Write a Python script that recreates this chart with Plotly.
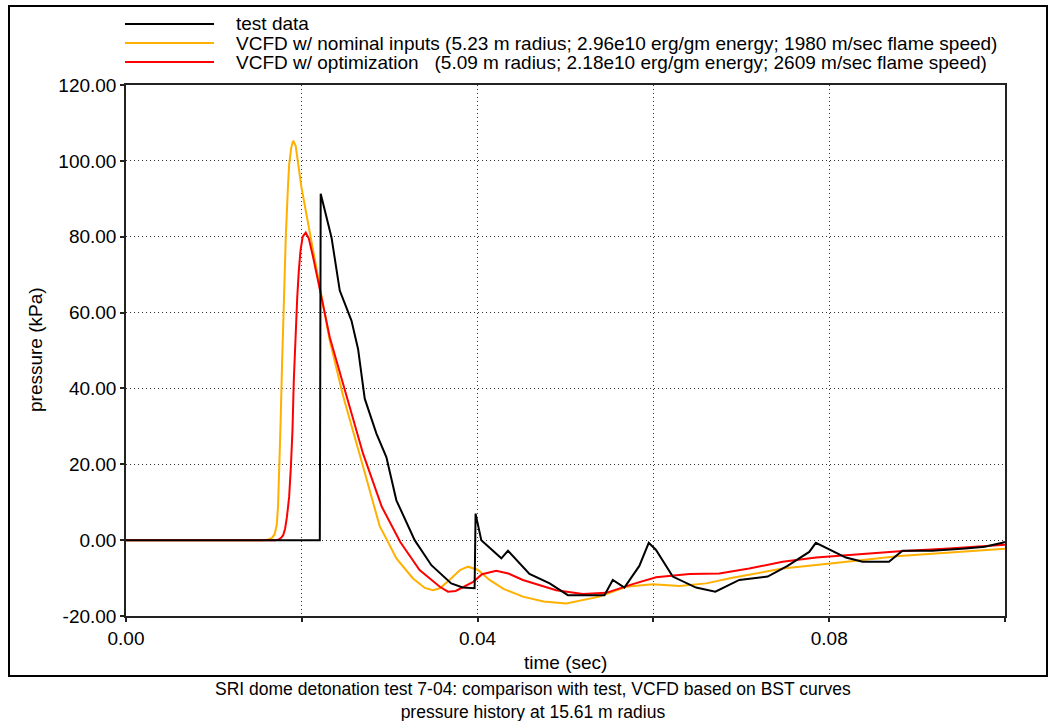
import plotly.graph_objects as go

# ---------------- data ----------------
test_t = [0.0, 0.02205, 0.02215, 0.02338, 0.02432, 0.02565, 0.0264, 0.02716, 0.02849, 0.02962,
          0.03076, 0.03284, 0.03474, 0.037, 0.0383, 0.03966, 0.03977, 0.04042, 0.0427, 0.04345,
          0.0459, 0.0482, 0.05027, 0.05443, 0.05538, 0.0567, 0.0584, 0.05947, 0.0603, 0.0622,
          0.06485, 0.06705, 0.06977, 0.073, 0.07526, 0.07773, 0.07848, 0.0798, 0.0819, 0.0838,
          0.0868, 0.08833, 0.0917, 0.0955, 0.0977, 0.0997, 0.1]
test_p = [0.0, 0.0, 91.3, 79.8, 65.8, 57.9, 50.4, 37.3, 28.1, 21.9,
          10.5, 0.0, -6.6, -11.4, -12.5, -12.7, 7.0, 0.0, -4.8, -2.8,
          -8.9, -11.4, -14.5, -14.5, -10.5, -12.5, -6.8, -0.7, -2.6, -9.6,
          -12.5, -13.6, -10.5, -9.6, -6.8, -3.1, -0.7, -2.2, -4.6, -5.7,
          -5.7, -2.8, -2.8, -2.2, -1.75, -0.7, -0.5]

nom_t = [0.0, 0.0157, 0.0162, 0.0166, 0.0169, 0.01715, 0.0173, 0.01745, 0.0176, 0.01775,
         0.0179, 0.01818, 0.0184, 0.01856, 0.0188, 0.01902, 0.0193, 0.0196, 0.01996, 0.0210,
         0.02205, 0.02318, 0.0247, 0.0260, 0.0272, 0.0281, 0.02886, 0.0297, 0.03076, 0.03265,
         0.0340, 0.03492, 0.0357, 0.0368, 0.0380, 0.0389, 0.0400, 0.04136, 0.0430, 0.04515,
         0.0475, 0.05008, 0.05386, 0.0569, 0.05992, 0.06295, 0.066, 0.069, 0.0747, 0.0804,
         0.088, 0.1]
nom_p = [0.0, 0.0, 0.2, 0.6, 1.5, 4.0, 9.0, 18.0, 32.0, 46.0,
         59.0, 80.0, 92.0, 99.0, 103.5, 105.3, 104.0, 98.5, 93.0, 80.0,
         66.7, 52.6, 38.0, 27.0, 17.5, 10.0, 3.7, 0.0, -4.8, -10.1,
         -12.6, -13.2, -12.7, -10.5, -7.9, -7.0, -7.8, -10.5, -12.9, -14.9,
         -16.2, -16.7, -14.9, -12.3, -11.6, -12.1, -11.4, -9.9, -7.5, -6.1,
         -4.2, -2.3]

opt_t = [0.0, 0.0170, 0.0174, 0.01765, 0.01788, 0.0181, 0.0183, 0.01856, 0.01875, 0.01894,
         0.01909, 0.01928, 0.01948, 0.01966, 0.01985, 0.0201, 0.02045, 0.0208, 0.02129, 0.02224,
         0.02318, 0.02545, 0.02697, 0.0291, 0.0312, 0.0334, 0.0357, 0.03663, 0.0375, 0.0395,
         0.0405, 0.04212, 0.0435, 0.04515, 0.04894, 0.05197, 0.05462, 0.05765, 0.0603, 0.0641,
         0.0675, 0.0709, 0.0747, 0.0785, 0.0823, 0.088, 0.0936, 0.1]
opt_p = [0.0, 0.0, 0.2, 0.6, 1.3, 3.0, 6.0, 11.4, 19.0, 28.9,
         42.1, 55.3, 64.0, 71.0, 76.3, 80.0, 81.1, 79.5, 74.6, 64.0,
         53.5, 35.1, 22.8, 8.8, -0.5, -7.9, -12.3, -13.6, -13.4, -11.0,
         -9.0, -8.1, -8.8, -10.5, -13.2, -14.2, -13.9, -11.6, -9.8, -8.9,
         -8.8, -7.5, -5.7, -4.6, -3.9, -2.9, -2.2, -1.2]

series_names = [
    "test data",
    "VCFD w/ nominal inputs (5.23 m radius; 2.96e10 erg/gm energy; 1980 m/sec flame speed)",
    "VCFD w/ optimization   (5.09 m radius; 2.18e10 erg/gm energy; 2609 m/sec flame speed)",
]
series_colors = ["#000000", "#FFB000", "#FF0000"]

x_tick_vals = [0.0, 0.02, 0.04, 0.06, 0.08, 0.1]
x_tick_text = ["0.00", "", "0.04", "", "0.08", ""]
y_tick_vals = [-20, 0, 20, 40, 60, 80, 100, 120]

x_title = "time (sec)"
y_title = "pressure (kPa)"
caption_lines = ["SRI dome detonation test 7-04: comparison with test, VCFD based on BST curves",
                 "pressure history at 15.61 m radius"]

# ---------------- layout geometry ----------------
W, H = 1050, 721
L, R, T, B = 126, 45, 85, 105
PW, PH = W - L - R, H - T - B

def px(x):
    return (x - L) / PW

def py(y):
    return (H - B - y) / PH

FONT = "Liberation Sans, Arial, Helvetica, sans-serif"

fig = go.Figure()
order = [1, 2, 0]
all_t = [test_t, nom_t, opt_t]
all_p = [test_p, nom_p, opt_p]
for i in order:
    fig.add_trace(go.Scatter(x=all_t[i], y=all_p[i], mode="lines", name=series_names[i],
                             line=dict(color=series_colors[i], width=2), showlegend=False))

shapes = []
annotations = []
# manual legend
leg_y = [24, 43, 62]
for yy, c, n in zip(leg_y, series_colors, series_names):
    shapes.append(dict(type="line", xref="paper", yref="paper",
                       x0=px(125), x1=px(214), y0=py(yy), y1=py(yy),
                       line=dict(color=c, width=2)))
    annotations.append(dict(xref="paper", yref="paper", x=px(234), y=py(yy),
                            text=n.replace("   ", "&nbsp;&nbsp;&nbsp;"), showarrow=False,
                            xanchor="left", yanchor="middle",
                            font=dict(size=19, color="#000")))
# outer frame
shapes.append(dict(type="rect", xref="paper", yref="paper",
                   x0=px(9), x1=px(1047), y0=py(676), y1=py(6),
                   line=dict(color="#000", width=2), layer="below"))
# axis titles
annotations.append(dict(xref="paper", yref="paper", x=px(565), y=py(662), text=x_title,
                        showarrow=False, xanchor="center", yanchor="middle",
                        font=dict(size=19, color="#000")))
annotations.append(dict(xref="paper", yref="paper", x=px(35), y=py(350), text=y_title,
                        textangle=-90, showarrow=False, xanchor="center", yanchor="middle",
                        font=dict(size=19, color="#000")))
# caption (one two-line text block)
annotations.append(dict(xref="paper", yref="paper", x=px(533), y=py(700),
                        text="<br>".join(caption_lines),
                        showarrow=False, xanchor="center", yanchor="middle", align="center",
                        borderpad=0, font=dict(size=17.5, color="#000")))

axis_common = dict(showline=True, linecolor="#222", linewidth=1.5, mirror=True,
                   ticks="outside", ticklen=4, tickcolor="#222", tickwidth=1.5,
                   showgrid=True, gridcolor="#333", gridwidth=1, griddash="1px,3px",
                   zeroline=False, tickfont=dict(size=19, color="#000"))

fig.update_layout(
    width=W, height=H,
    margin=dict(l=L, r=R, t=T, b=B, pad=0),
    paper_bgcolor="white", plot_bgcolor="white",
    font=dict(family=FONT, color="#000"),
    showlegend=False,
    xaxis=dict(range=[0, 0.1], tickmode="array", tickvals=x_tick_vals, ticktext=x_tick_text,
               **axis_common),
    yaxis=dict(range=[-20, 120], tickmode="array", tickvals=y_tick_vals,
               ticktext=[f"{v:.2f}" for v in y_tick_vals], **axis_common),
    shapes=shapes,
    annotations=annotations,
)

fig.write_html("out.html")
